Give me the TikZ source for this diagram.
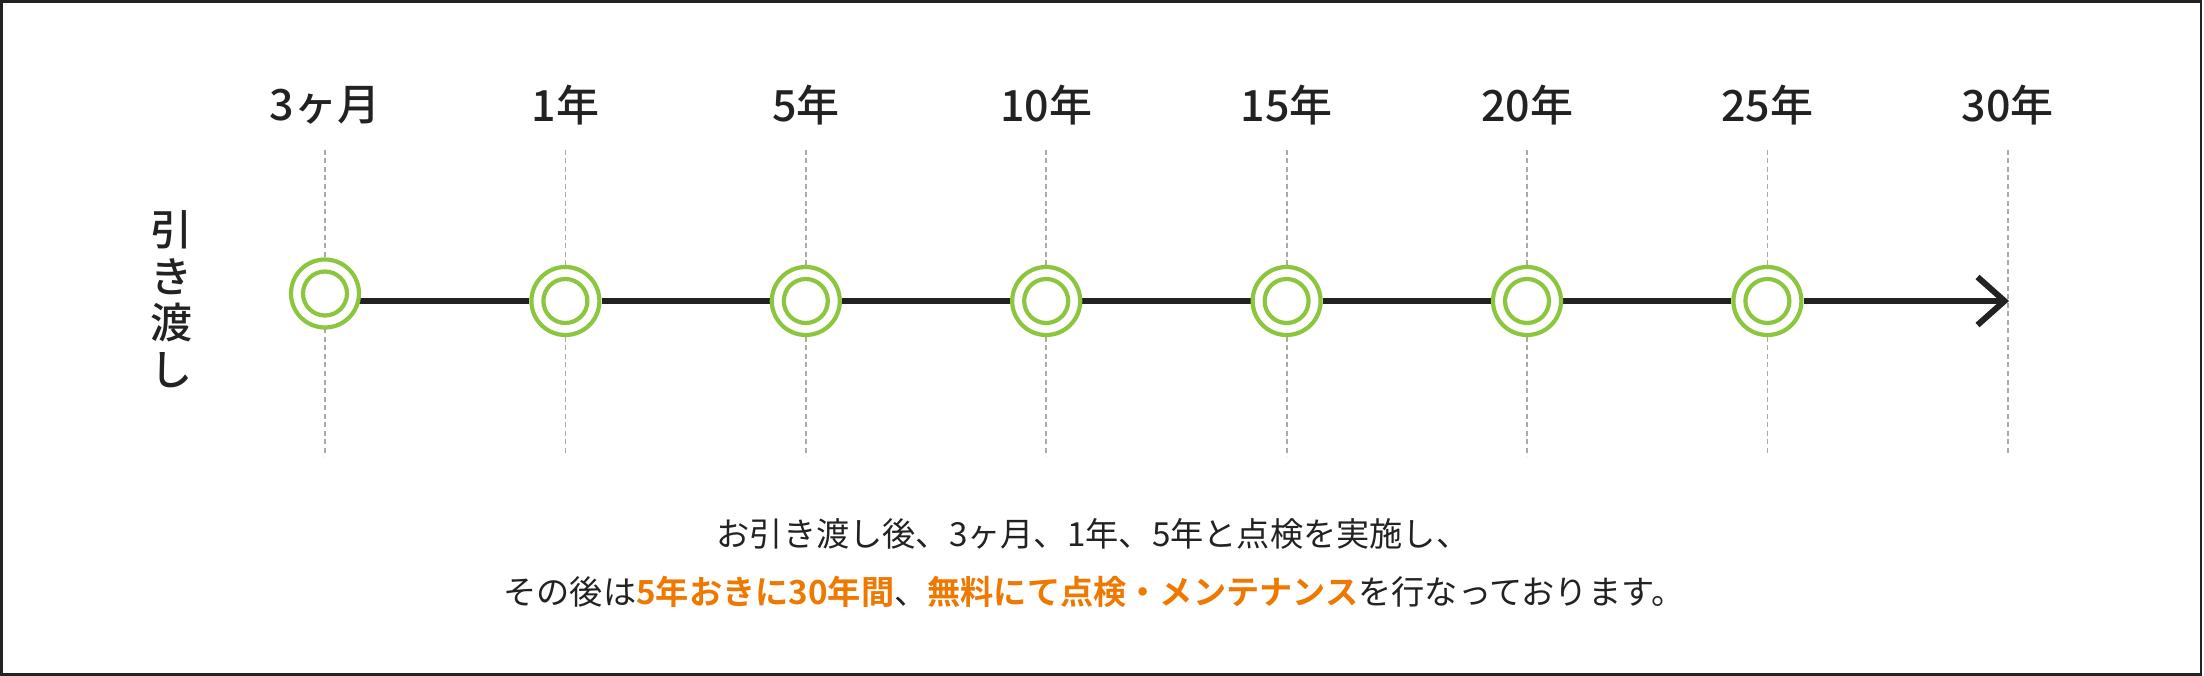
\documentclass[tikz,border=0pt]{standalone}
\usepackage{fontspec}
\setmainfont{Noto Sans CJK JP}[BoldFont={Noto Sans CJK JP Bold}]
\newfontfamily\jpmed{Noto Sans CJK JP Medium}
\usetikzlibrary{backgrounds}
\definecolor{ink}{HTML}{222222}
\definecolor{leaf}{HTML}{8CC63F}
\definecolor{accent}{HTML}{EE7800}
\definecolor{guide}{HTML}{AAAAAA}
\newcommand\orng[1]{{\bfseries\color{accent}#1}}
\tikzset{
  yearlabel/.style={text=ink, inner sep=0pt, font=\jpmed\fontsize{43}{50}\selectfont},
  ring/.style={circle, draw=leaf, line width=4.2pt, fill=white, minimum size=68pt, inner sep=0pt,
    path picture={\draw[leaf, line width=4.2pt] (path picture bounding box.center) circle[radius=22pt];}},
  guideline/.style={draw=guide, line width=1.8pt, dash pattern=on 5pt off 3.5pt},
  timeline/.style={draw=ink, line width=6pt},
  bodytext/.style={text=ink, inner sep=0pt, font=\fontsize{33.2}{38}\selectfont},
  vtext/.style={text=ink, inner sep=0pt, align=center, font=\jpmed\fontsize{42}{46.5}\selectfont},
}
\begin{document}
\begin{tikzpicture}[x=1pt,y=-1pt]
\useasboundingbox (0,0) rectangle (2204,676);
\draw[ink, line width=2.5pt] (1.3,1.7) rectangle (2201.2,674.6);
% year labels
\foreach \i/\t in {0/{3ヶ月},1/{1年},2/{5年},3/{10年},4/{15年},5/{20年},6/{25年},7/{30年}} {
  \node[yearlabel] (L\i) at (325+240.4*\i, 105) {\t};
  \coordinate (G\i top) at (325+240.4*\i, 150);
  \coordinate (G\i bot) at (325+240.4*\i, 456);
}
% rings
\node[ring] (C0) at (325, 293.5) {};
\foreach \i in {1,...,6} {
  \node[ring] (C\i) at (325+240.4*\i, 301) {};
}
\coordinate (end) at (2004.5, 301);
\begin{scope}[on background layer]
  \foreach \i in {0,...,7} { \draw[guideline] (G\i top) -- (G\i bot); }
  \draw[timeline] (C0.center |- C1.center) -- (C1);
  \foreach \i [evaluate=\i as \j using int(\i+1)] in {1,...,5} { \draw[timeline] (C\i) -- (C\j); }
  \draw[timeline] (C6) -- (end);
\end{scope}
\draw[timeline, line join=miter] ([shift={(-27,-24)}]end) -- (end) -- ([shift={(-27,24)}]end);
% vertical label
\node[vtext] (V) at (171, 299) {引\\き\\渡\\し};
% description
\node[bodytext] (T1) at (1093, 534) {お引き渡し後、3ヶ月、1年、5年と点検を実施し、};
\node[bodytext] (T2) at (1094, 592) {その後は\orng{5年おきに30年間}、\orng{無料にて点検・メンテナンス}を行なっております。};
\end{tikzpicture}
\end{document}
